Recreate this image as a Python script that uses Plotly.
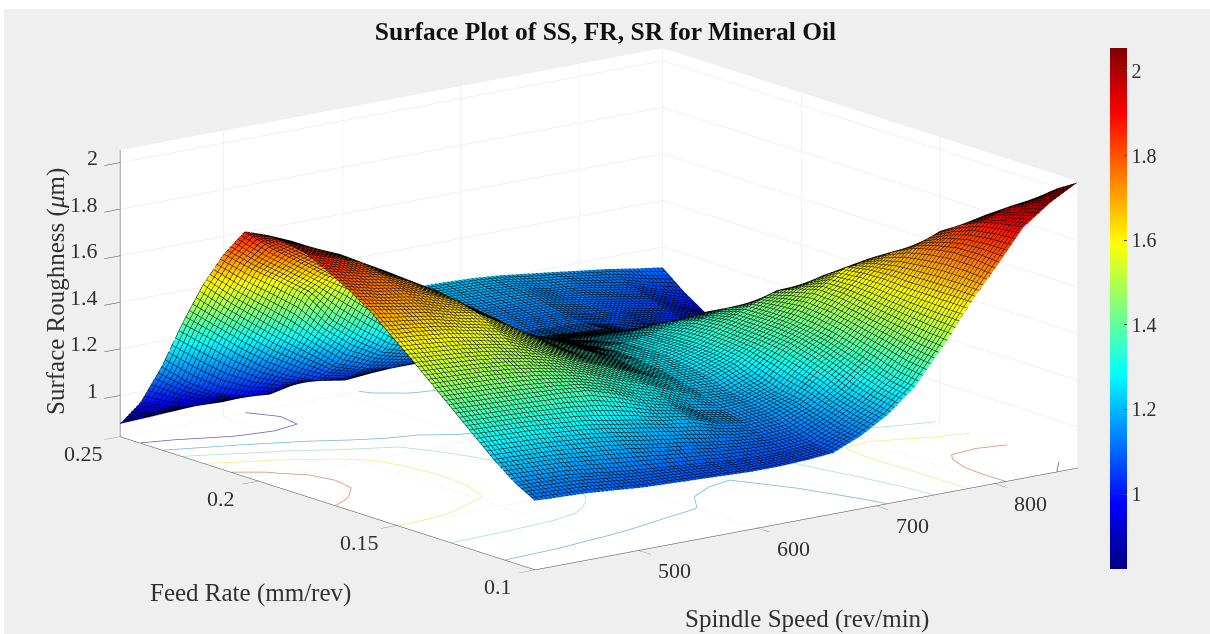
import numpy as np
import plotly.graph_objects as go

SPINDLE_SPEED = [413, 436, 459, 482, 504, 527, 550, 573, 596, 619, 642, 664, 687, 710, 733, 756, 779, 801, 824, 847, 870]
FEED_RATE = [0.1, 0.1075, 0.115, 0.1225, 0.13, 0.1375, 0.145, 0.1525, 0.16, 0.1675, 0.175,
             0.1825, 0.19, 0.1975, 0.205, 0.2125, 0.22, 0.2275, 0.235, 0.2425, 0.25]
R00 = [1.12, 1.115, 1.11, 1.10, 1.09, 1.085, 1.08, 1.075, 1.07, 1.07, 1.075, 1.085, 1.135, 1.205, 1.305, 1.45, 1.615, 1.75, 1.90, 1.985, 2.05]
R01 = [1.17, 1.165, 1.16, 1.145, 1.13, 1.12, 1.11, 1.10, 1.09, 1.085, 1.085, 1.095, 1.15, 1.225, 1.32, 1.46, 1.615, 1.76, 1.885, 1.95, 1.995]
R02 = [1.24, 1.235, 1.23, 1.22, 1.21, 1.195, 1.175, 1.16, 1.14, 1.125, 1.115, 1.125, 1.175, 1.25, 1.35, 1.475, 1.615, 1.76, 1.865, 1.91, 1.925]
R03 = [1.32, 1.315, 1.31, 1.30, 1.29, 1.27, 1.25, 1.225, 1.21, 1.17, 1.15, 1.16, 1.20, 1.29, 1.375, 1.49, 1.615, 1.745, 1.825, 1.85, 1.84]
R04 = [1.40, 1.395, 1.39, 1.385, 1.38, 1.37, 1.335, 1.285, 1.25, 1.195, 1.175, 1.185, 1.215, 1.32, 1.40, 1.505, 1.62, 1.72, 1.77, 1.77, 1.74]
R05 = [1.48, 1.475, 1.47, 1.46, 1.445, 1.42, 1.385, 1.34, 1.30, 1.25, 1.21, 1.20, 1.245, 1.345, 1.415, 1.52, 1.615, 1.675, 1.68, 1.64, 1.62]
R06 = [1.56, 1.55, 1.54, 1.525, 1.50, 1.465, 1.42, 1.375, 1.33, 1.28, 1.24, 1.235, 1.28, 1.355, 1.425, 1.525, 1.60, 1.62, 1.58, 1.54, 1.50]
R07 = [1.635, 1.625, 1.61, 1.585, 1.56, 1.50, 1.445, 1.39, 1.345, 1.295, 1.26, 1.255, 1.295, 1.36, 1.425, 1.50, 1.54, 1.51, 1.45, 1.415, 1.385]
R08 = [1.71, 1.69, 1.67, 1.635, 1.61, 1.54, 1.47, 1.40, 1.36, 1.31, 1.275, 1.27, 1.30, 1.365, 1.42, 1.465, 1.47, 1.40, 1.34, 1.30, 1.275]
R09 = [1.77, 1.74, 1.72, 1.68, 1.635, 1.56, 1.48, 1.41, 1.365, 1.315, 1.28, 1.275, 1.30, 1.355, 1.385, 1.39, 1.37, 1.30, 1.25, 1.21, 1.18]
R10 = [1.82, 1.79, 1.76, 1.71, 1.65, 1.57, 1.48, 1.41, 1.36, 1.31, 1.275, 1.27, 1.29, 1.325, 1.34, 1.32, 1.26, 1.22, 1.175, 1.14, 1.115]
R11 = [1.865, 1.825, 1.785, 1.72, 1.655, 1.565, 1.47, 1.395, 1.34, 1.29, 1.26, 1.25, 1.265, 1.285, 1.28, 1.23, 1.17, 1.13, 1.11, 1.08, 1.065]
R12 = [1.885, 1.84, 1.79, 1.72, 1.65, 1.55, 1.45, 1.37, 1.31, 1.27, 1.24, 1.225, 1.235, 1.235, 1.215, 1.165, 1.12, 1.09, 1.065, 1.04, 1.03]
R13 = [1.89, 1.84, 1.77, 1.69, 1.625, 1.52, 1.42, 1.335, 1.27, 1.23, 1.21, 1.20, 1.20, 1.19, 1.175, 1.13, 1.095, 1.06, 1.04, 1.01, 1.00]
R14 = [1.875, 1.78, 1.70, 1.62, 1.565, 1.47, 1.375, 1.29, 1.21, 1.19, 1.175, 1.17, 1.165, 1.155, 1.145, 1.10, 1.075, 1.04, 1.015, 0.99, 0.98]
R15 = [1.75, 1.665, 1.59, 1.51, 1.38, 1.29, 1.21, 1.18, 1.14, 1.13, 1.13, 1.135, 1.14, 1.13, 1.125, 1.09, 1.075, 1.035, 1.01, 0.985, 0.97]
R16 = [1.59, 1.49, 1.40, 1.31, 1.23, 1.14, 1.10, 1.08, 1.08, 1.09, 1.11, 1.12, 1.13, 1.125, 1.12, 1.095, 1.08, 1.045, 1.02, 0.99, 0.97]
R17 = [1.395, 1.31, 1.22, 1.14, 1.08, 1.04, 1.02, 1.03, 1.055, 1.09, 1.12, 1.14, 1.15, 1.14, 1.135, 1.11, 1.095, 1.07, 1.045, 1.005, 0.97]
R18 = [1.18, 1.09, 1.02, 0.985, 0.975, 1.00, 1.02, 1.05, 1.09, 1.13, 1.165, 1.18, 1.17, 1.165, 1.16, 1.14, 1.12, 1.10, 1.08, 1.03, 0.98]
R19 = [1.00, 0.96, 0.94, 0.935, 0.945, 0.99, 1.05, 1.10, 1.14, 1.185, 1.205, 1.21, 1.20, 1.195, 1.185, 1.16, 1.15, 1.13, 1.11, 1.07, 1.04]
R20 = [0.878, 0.883, 0.89, 0.915, 0.965, 1.02, 1.07, 1.12, 1.165, 1.21, 1.225, 1.228, 1.225, 1.22, 1.21, 1.195, 1.18, 1.165, 1.15, 1.13, 1.113]
CONTOUR_LEVELS = [1.0, 1.2, 1.4, 1.6, 1.8, 2.0]
CONTOUR_COLORS = ["#5a62b8", "#6cb8dc", "#a4e4c4", "#f4ec80", "#dc8a68", "#9c4a5c"]
X_TICKS = [500, 600, 700, 800]
Y_TICKS = [0.1, 0.15, 0.2, 0.25]
Y_LABELS = ["0.1", "0.15", "0.2", "0.25"]
Z_TICKS = [1, 1.2, 1.4, 1.6, 1.8, 2]
Z_LABELS = ["1", "1.2", "1.4", "1.6", "1.8", "2"]
Z_MIN, Z_MAX = 0.823, 2.054

ROUGHNESS = np.array([R00, R01, R02, R03, R04, R05, R06, R07, R08, R09, R10,
                      R11, R12, R13, R14, R15, R16, R17, R18, R19, R20])

JET = [[0, "rgb(0,0,128)"], [0.125, "rgb(0,0,255)"], [0.375, "rgb(0,255,255)"],
       [0.625, "rgb(255,255,0)"], [0.875, "rgb(255,0,0)"], [1, "rgb(128,0,0)"]]
SERIF = "Liberation Serif"
INK = "#303030"


def contour_segments(level):
    level = level + 1e-4  # keeps grid values equal to a level from splitting the line
    xs, ys = [], []
    for j in range(len(FEED_RATE) - 1):
        for i in range(len(SPINDLE_SPEED) - 1):
            corners = [(SPINDLE_SPEED[i], FEED_RATE[j], ROUGHNESS[j, i]),
                       (SPINDLE_SPEED[i + 1], FEED_RATE[j], ROUGHNESS[j, i + 1]),
                       (SPINDLE_SPEED[i + 1], FEED_RATE[j + 1], ROUGHNESS[j + 1, i + 1]),
                       (SPINDLE_SPEED[i], FEED_RATE[j + 1], ROUGHNESS[j + 1, i])]
            pts = []
            for k in range(4):
                p, q = corners[k], corners[(k + 1) % 4]
                if (p[2] - level) * (q[2] - level) < 0:
                    t = (level - p[2]) / (q[2] - p[2])
                    pts.append((p[0] + t * (q[0] - p[0]), p[1] + t * (q[1] - p[1])))
            for m in range(0, len(pts) - 1, 2):
                xs += [pts[m][0], pts[m + 1][0], None]
                ys += [pts[m][1], pts[m + 1][1], None]
    return xs, ys


fig = go.Figure()
fig.add_surface(
    x=SPINDLE_SPEED, y=FEED_RATE, z=ROUGHNESS, colorscale=JET, cmin=Z_MIN, cmax=Z_MAX,
    lighting=dict(ambient=1, diffuse=0, specular=0, roughness=1, fresnel=0),
    hoverinfo="skip",
    contours=dict(
        x=dict(show=True, start=413, end=870, size=3.4, color="#000000", width=1, highlight=False),
        y=dict(show=True, start=0.1, end=0.25, size=0.00125, color="#000000", width=1, highlight=False),
        z=dict(highlight=False),
    ),
    colorbar=dict(
        thickness=17, lenmode="pixels", len=521, x=1110 / 1210, xanchor="left",
        y=1 - 308.5 / 634, yanchor="middle", outlinewidth=0, ticks="inside", ticklen=3,
        tickcolor="#404040", tickvals=Z_TICKS, ticktext=Z_LABELS, xpad=0, ypad=0,
        tickfont=dict(family=SERIF, size=20, color=INK),
    ),
)
for level, color in zip(CONTOUR_LEVELS, CONTOUR_COLORS):
    xs, ys = contour_segments(level)
    fig.add_scatter3d(x=xs, y=ys, z=[None if v is None else Z_MIN + 0.002 for v in xs], mode="lines",
                      line=dict(color=color, width=1.5), showlegend=False, hoverinfo="skip")

axis_common = dict(
    showbackground=True, backgroundcolor="white", gridcolor="#e4e4e4", gridwidth=1, zeroline=False,
    showline=True, linecolor="#404040", linewidth=1, ticks="outside", ticklen=20, tickcolor="#404040",
    showticklabels=False, title=dict(text=""), showspikes=False,
)
tick_font = dict(family=SERIF, size=22, color=INK)
tick_notes = []
for v in X_TICKS:
    tick_notes.append(dict(x=v, y=0.1, z=Z_MIN, text=str(v), showarrow=False, xshift=36, yshift=-20, font=tick_font))
for v, t in zip(Y_TICKS, Y_LABELS):
    tick_notes.append(dict(x=413, y=v, z=Z_MIN, text=t, showarrow=False, xshift=-37, yshift=-17, font=tick_font))
for v, t in zip(Z_TICKS, Z_LABELS):
    tick_notes.append(dict(x=413, y=0.25, z=v, text=t, showarrow=False, xanchor="right", xshift=-20, yshift=5, font=tick_font))

BOX_SCALE = 2.211
fig.update_layout(
    width=1210, height=634, margin=dict(l=0, r=0, t=0, b=0), paper_bgcolor="#efefef",
    showlegend=False,
    title=dict(text="<b>Surface Plot of SS, FR, SR for Mineral Oil</b>", x=605.5 / 1210, xanchor="center",
               y=1 - 31 / 634, yanchor="middle", font=dict(family=SERIF, size=25.5, color="#111111")),
    scene=dict(
        domain=dict(x=[0, 1198 / 1210], y=[1 - 618 / 634, 1]),
        aspectmode="manual", aspectratio=dict(x=BOX_SCALE, y=BOX_SCALE, z=0.4328 * BOX_SCALE),
        xaxis=dict(range=[413, 870], tickvals=X_TICKS, **axis_common),
        yaxis=dict(range=[0.1, 0.25], tickvals=Y_TICKS, ticktext=Y_LABELS, **axis_common),
        zaxis=dict(range=[Z_MIN, Z_MAX], tickvals=Z_TICKS, ticktext=Z_LABELS, **axis_common),
        camera=dict(projection=dict(type="orthographic"), up=dict(x=0, y=0, z=1),
                    center=dict(x=0, y=0, z=0),
                    eye=dict(x=-0.589 * 6, y=-0.770 * 6, z=0.2454 * 6)),
        annotations=tick_notes,
    ),
    shapes=[
        dict(type="rect", xref="paper", yref="paper", x0=0, x1=1, y0=1 - 9 / 634, y1=1,
             fillcolor="white", line_width=0, layer="above"),
        dict(type="rect", xref="paper", yref="paper", x0=0, x1=4 / 1210, y0=0, y1=1,
             fillcolor="white", line_width=0, layer="above"),
    ],
    annotations=[
        dict(text="Feed Rate (mm/rev)", x=250 / 1210, y=1 - 593 / 634, xref="paper", yref="paper",
             xanchor="center", yanchor="middle", showarrow=False, font=dict(family=SERIF, size=25, color=INK)),
        dict(text="Spindle Speed (rev/min)", x=807 / 1210, y=1 - 619 / 634, xref="paper", yref="paper",
             xanchor="center", yanchor="middle", showarrow=False, font=dict(family=SERIF, size=25, color=INK)),
        dict(text="Surface Roughness (<i>μ</i>m)", x=56 / 1210, y=1 - 292 / 634, xref="paper", yref="paper",
             xanchor="center", yanchor="middle", showarrow=False, textangle=-90,
             font=dict(family=SERIF, size=25, color=INK)),
    ],
)
fig.write_html("out.html", config={"displayModeBar": False}, post_script="document.body.style.margin='0';")
